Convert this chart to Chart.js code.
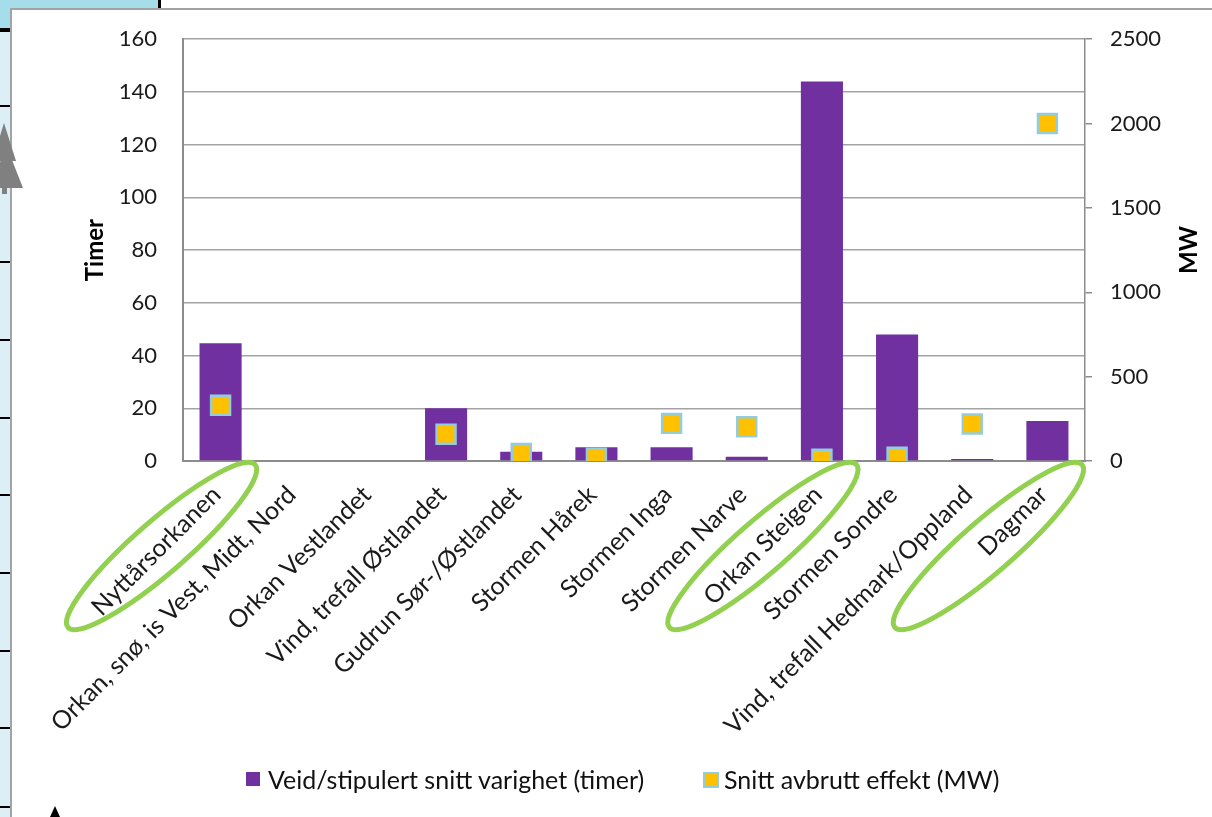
<!DOCTYPE html>
<html>
<head>
<meta charset="utf-8">
<script src="https://cdn.jsdelivr.net/npm/chart.js@4.4.0/dist/chart.umd.min.js"></script>
<style>
  html, body { margin: 0; padding: 0; width: 1212px; height: 817px; overflow: hidden; background: #fff; font-family: Lato, sans-serif; }
  .abs { position: absolute; }
  #strip { left: 0; top: 0; width: 11px; height: 817px; background: #DDEFF6; }
  #stripTop { left: 0; top: 0; width: 11px; height: 28px; background: #A6DDEA; }
  #topbar { left: 0; top: 0; width: 159px; height: 9px; background: #A6DDEA; }
  #topline { left: 158px; top: 0; width: 3px; height: 9px; background: #000; }
  .hl { left: 0; width: 11px; height: 2px; background: #000; }
  #frame { left: 10px; top: 8px; width: 1210px; height: 820px; border-left: 2px solid #A3A3A3; border-top: 2px solid #A3A3A3; background: #fff; }
  #chart { left: 0; top: 0; }
  .tri { background: #808080; }
  #legend div { position: absolute; }
  .lbl { font-size: 25px; color: #111; line-height: 28px; top: 765px; white-space: nowrap; }
</style>
</head>
<body>
<div id="strip" class="abs"></div>
<div id="stripTop" class="abs"></div>
<div id="lines"></div>
<div id="topbar" class="abs"></div>
<div id="topline" class="abs"></div>
<div id="frame" class="abs"></div>
<canvas id="chart" class="abs" width="1212" height="817"></canvas>
<div class="abs tri" style="left:-8px;top:123px;width:24px;height:38px;clip-path:polygon(50% 0,100% 100%,0 100%)"></div>
<div class="abs tri" style="left:-10px;top:146px;width:33px;height:42px;clip-path:polygon(50% 0,100% 100%,0 100%)"></div>
<div class="abs tri" style="left:2px;top:186px;width:5px;height:8px"></div>
<div class="abs" style="left:50px;top:806px;width:10px;height:11px;background:#000;clip-path:polygon(50% 0,100% 100%,0 100%)"></div>
<div id="legend"></div>
<script>
const categories = ['Nyttårsorkanen', 'Orkan, snø, is Vest, Midt, Nord', 'Orkan Vestlandet',
  'Vind, trefall Østlandet', 'Gudrun Sør-/Østlandet', 'Stormen Hårek', 'Stormen Inga',
  'Stormen Narve', 'Orkan Steigen', 'Stormen Sondre', 'Vind, trefall Hedmark/Oppland', 'Dagmar'];
const varighet = [44.7, 0, 0, 20, 3.5, 5.2, 5.2, 1.6, 144, 48, 0.75, 15.2];
const effekt = [331, null, null, 158, 45, 16, 223, 203, 10, 22, 219, 2000];
const timerTicks = [0, 20, 40, 60, 80, 100, 120, 140, 160];
const mwTicks = [0, 500, 1000, 1500, 2000, 2500];
const highlighted = ['Nyttårsorkanen', 'Orkan Steigen', 'Dagmar'];
const seriesNames = ['Veid/stipulert snitt varighet (timer)', 'Snitt avbrutt effekt (MW)'];
const axisTitles = ['Timer', 'MW'];

const purple = '#7030A0';
const orange = '#FFC000';
const lightBlue = '#93CDDD';
const gridGray = '#A3A3A3';

// black rules on the spreadsheet strip at the left edge
[29, 106, 184, 262, 340, 418, 495, 573, 651, 728, 807].forEach(function (top, i) {
  const d = document.createElement('div');
  d.className = 'abs hl';
  d.style.top = (top - 1) + 'px';
  if (i === 0) d.style.height = '4px';
  document.getElementById('lines').appendChild(d);
});

// hand drawn rings and the axis titles
const extras = {
  id: 'extras',
  afterDraw(chart) {
    const ctx = chart.ctx;
    const x = chart.scales.x, y = chart.scales.y;
    ctx.save();
    ctx.fillStyle = '#000';
    ctx.font = 'bold 24px Lato';
    ctx.textAlign = 'center';
    ctx.textBaseline = 'middle';
    const mid = (y.top + y.bottom) / 2;
    [[axisTitles[0], 95], [axisTitles[1], 1189]].forEach(function (t) {
      ctx.save();
      ctx.translate(t[1], mid);
      ctx.rotate(-Math.PI / 2);
      ctx.fillText(t[0], 0, 0);
      ctx.restore();
    });
    ctx.strokeStyle = '#92D050';
    ctx.lineWidth = 5;
    highlighted.forEach(function (name) {
      const i = categories.indexOf(name);
      const cx = x.getPixelForTick(i) - 59;
      const cy = x.top + 85;
      ctx.beginPath();
      ctx.ellipse(cx, cy, 124, 26, -41 * Math.PI / 180, 0, Math.PI * 2);
      ctx.stroke();
    });
    ctx.restore();
  }
};

Chart.defaults.font.family = 'Lato';
Chart.defaults.font.size = 22;
Chart.defaults.color = '#1a1a1a';

new Chart(document.getElementById('chart'), {
  type: 'bar',
  data: {
    labels: categories,
    datasets: [{
      type: 'line',
      label: seriesNames[1],
      data: effekt,
      yAxisID: 'y1',
      showLine: false,
      pointStyle: 'rect',
      pointRadius: 13.4,
      pointBackgroundColor: orange,
      pointBorderColor: lightBlue,
      pointBorderWidth: 2.5,
      order: 0
    }, {
      label: seriesNames[0],
      data: varighet,
      yAxisID: 'y',
      backgroundColor: purple,
      barPercentage: 1,
      categoryPercentage: 0.56,
      order: 1
    }]
  },
  options: {
    responsive: false,
    animation: false,
    layout: { padding: { top: 38, left: 0, right: 0, bottom: 0 } },
    plugins: { legend: { display: false }, tooltip: { enabled: false } },
    scales: {
      x: {
        grid: { display: false, drawTicks: false },
        border: { display: true, color: '#8C8C8C', width: 2 },
        ticks: { autoSkip: false, minRotation: 45, maxRotation: 45, padding: 19, labelOffset: -4, font: { size: 25 } },
        afterFit: function (s) { s.height = 356; }
      },
      y: {
        position: 'left',
        min: 0, max: 160,
        grid: { color: gridGray, lineWidth: 1.5, drawTicks: false },
        border: { display: true, color: '#8C8C8C', width: 2 },
        ticks: { stepSize: 20, padding: 26, callback: function (v) { return timerTicks.includes(v) ? v : null; } },
        afterFit: function (s) { s.width = 183; }
      },
      y1: {
        position: 'right',
        min: 0, max: 2500,
        grid: { drawOnChartArea: false, color: '#8C8C8C', tickLength: 7, lineWidth: 1.5 },
        border: { display: true, color: '#8C8C8C', width: 1.5 },
        ticks: { stepSize: 500, padding: 18, callback: function (v) { return mwTicks.includes(v) ? v : null; } },
        afterFit: function (s) { s.width = 127; }
      }
    }
  },
  plugins: [extras]
});

// legend under the chart
const legend = document.getElementById('legend');
const items = [
  { name: seriesNames[0], box: 'background:' + purple + ';width:14px;height:14px;', bx: 246, tx: 268 },
  { name: seriesNames[1], box: 'background:' + orange + ';width:12px;height:12px;border:2px solid ' + lightBlue + ';', bx: 703, tx: 724 }
];
items.forEach(function (it) {
  const b = document.createElement('div');
  b.style.cssText = it.box + 'left:' + it.bx + 'px;top:772px;';
  legend.appendChild(b);
  const t = document.createElement('div');
  t.className = 'lbl';
  t.style.left = it.tx + 'px';
  t.textContent = it.name;
  legend.appendChild(t);
});
</script>
</body>
</html>
